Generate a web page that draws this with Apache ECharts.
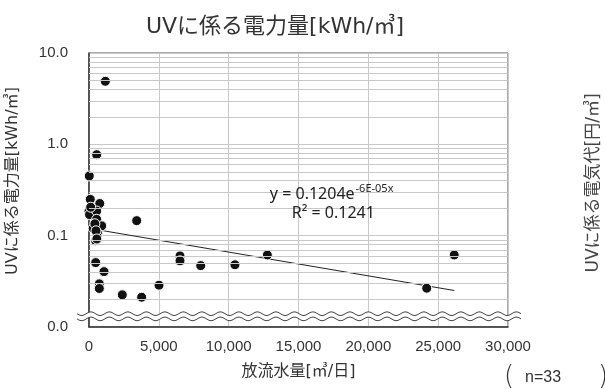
<!DOCTYPE html>
<html>
<head>
<meta charset="utf-8">
<script src="https://cdn.jsdelivr.net/npm/echarts@6/dist/echarts.min.js"></script>
<style>
html,body{margin:0;padding:0;background:#fff;}
#c{width:605px;height:389px;}
</style>
</head>
<body>
<div id="c"></div>
<script>
// ---- data ----
const titleText = 'UVに係る電力量[kWh/㎥]';
const xName = '放流水量[㎥/日]';
const yName = 'UVに係る電力量[kWh/㎥]';
const sideText = 'UVに係る電気代[円/㎥]';
const countText = 'n=33';
const xValues = [1170, 550, 20, 90, 770, 0, 40, 550, 550, 3415, 908, 300, 620, 573, 478, 478, 1074,
                 740, 740, 2385, 3770, 5012, 6515, 6515, 8000, 10450, 12770, 26150, 24180, 120, 420, 500, 560];
const yValues = [4.9, 0.77, 0.45, 0.25, 0.225, 0.185, 0.17, 0.186, 0.151, 0.146, 0.128, 0.12, 0.106, 0.0975, 0.088, 0.0507, 0.0404,
                 0.0297, 0.0264, 0.0225, 0.0212, 0.0287, 0.060, 0.053, 0.047, 0.048, 0.0615, 0.0615, 0.0266, 0.205, 0.135, 0.113, 0.092];
const trendX = [0, 26150];
const trendY = [0.1204, 0.0251];
const eqMain = 'y = 0.1204e';
const eqExp = '-6E-05x';
const r2Text = 'R² = 0.1241';
const minorGrid = [0.02,0.03,0.04,0.05,0.06,0.07,0.08,0.09,0.2,0.3,0.4,0.5,0.6,0.7,0.8,0.9,2,3,4,5,6,7,8,9];
const yMin = 0.01, yMax = 10;
const xMin = 0, xMax = 30000, xStep = 5000;
const breakValue = 0.0131;

(function () {
const JP = '"DejaVu Sans", "Noto Sans CJK JP", sans-serif';
const NUM = '"Liberation Sans", Arial, sans-serif';
const EQ = '"Noto Sans", sans-serif';
const chart = echarts.init(document.getElementById('c'));

const points = xValues.map((x, i) => [x, yValues[i]]);
const trend = trendX.map((x, i) => [x, trendY[i]]);

chart.setOption({
  animation: false,
  backgroundColor: '#fff',
  textStyle: {fontFamily: JP},
  grid: {left: 89, right: 97, top: 53, bottom: 62, show: true, borderColor: '#555', borderWidth: 1, backgroundColor: 'transparent'},
  xAxis: {
    type: 'value', min: xMin, max: xMax, interval: xStep,
    name: xName, nameLocation: 'middle', nameGap: 37,
    nameTextStyle: {fontSize: 16, color: '#333', fontFamily: JP},
    axisLine: {show: true, lineStyle: {color: '#333', width: 1.5}},
    axisTick: {show: false},
    axisLabel: {fontSize: 15, color: '#333', margin: 12, fontFamily: NUM,
      formatter: v => v.toLocaleString('en-US')},
    splitLine: {show: true, lineStyle: {color: '#c8c8c8', width: 1}}
  },
  yAxis: {
    type: 'log', logBase: 10, min: yMin, max: yMax,
    axisLine: {show: true, lineStyle: {color: '#333', width: 1.5}},
    axisTick: {show: false},
    axisLabel: {fontSize: 15, color: '#333', margin: 21, fontFamily: NUM,
      formatter: v => v.toFixed(1)},
    splitLine: {show: true, lineStyle: {color: '#c8c8c8', width: 1}}
  },
  series: [
    {
      type: 'line', data: [], silent: true, symbol: 'none',
      markLine: {
        silent: true, symbol: 'none', label: {show: false},
        lineStyle: {color: '#c8c8c8', width: 1, type: 'solid'},
        data: minorGrid.map(v => ({yAxis: v}))
      },
      z: 1
    },
    {
      type: 'line', data: trend, symbol: 'none', silent: true,
      lineStyle: {color: '#222', width: 1}, z: 3
    },
    {
      type: 'scatter', data: points, symbol: 'circle', symbolSize: 10,
      itemStyle: {color: '#111', borderColor: '#fff', borderWidth: 1, opacity: 1}, z: 4
    }
  ]
});

// decorations: axis break wave, annotations, side texts
const yb = chart.convertToPixel({yAxisIndex: 0}, breakValue);
const x0 = 77, x1 = 521, period = 18.5, amp = 1.8, half = 2.6;
function wave(off) {
  const pts = [];
  for (let x = x0; x <= x1; x += 1) {
    pts.push([x, yb + off + amp * Math.sin((x - x0) / period * 2 * Math.PI)]);
  }
  return pts;
}
const waveTop = wave(-half), waveBot = wave(half);
const band = waveTop.concat(waveBot.slice().reverse());

const eqX = chart.convertToPixel({xAxisIndex: 0}, 12950);
const eqY = chart.convertToPixel({yAxisIndex: 0}, 0.28);
const r2X = chart.convertToPixel({xAxisIndex: 0}, 14520);
const r2Y = chart.convertToPixel({yAxisIndex: 0}, 0.175);

const ctx = document.createElement('canvas').getContext('2d');
ctx.font = '16px ' + EQ;
const mainW = ctx.measureText(eqMain).width;

chart.setOption({
  graphic: [
    {type: 'polygon', shape: {points: band}, style: {fill: '#fff', stroke: null}, z: 10, silent: true},
    {type: 'polyline', shape: {points: waveTop}, style: {stroke: '#444', lineWidth: 1, fill: null}, z: 11, silent: true},
    {type: 'polyline', shape: {points: waveBot}, style: {stroke: '#444', lineWidth: 1, fill: null}, z: 11, silent: true},
    {type: 'text', x: 275, y: 27, z: 20, style: {text: titleText, font: '22px ' + JP, fill: '#333', align: 'center', verticalAlign: 'middle'}},
    {type: 'text', x: 13, y: 181, rotation: Math.PI / 2, z: 20, style: {text: yName, font: '16px ' + JP, fill: '#333', align: 'center', verticalAlign: 'middle'}},
    {type: 'text', x: eqX, y: eqY, z: 20, style: {text: eqMain, font: '16px ' + EQ, fill: '#222', align: 'left', verticalAlign: 'middle'}},
    {type: 'text', x: eqX + mainW + 1, y: eqY - 6, z: 20, style: {text: eqExp, font: '11px ' + EQ, fill: '#222', align: 'left', verticalAlign: 'middle'}},
    {type: 'text', x: r2X, y: r2Y, z: 20, style: {text: r2Text, font: '16px ' + EQ, fill: '#222', align: 'left', verticalAlign: 'middle'}},
    {type: 'text', x: 594, y: 183, rotation: Math.PI / 2, z: 20, style: {text: sideText, font: '17px ' + JP, fill: '#444', align: 'center', verticalAlign: 'middle'}},
    {type: 'text', x: 509, y: 377, z: 20, style: {text: '(', font: '300 26px "DejaVu Sans", sans-serif', fill: '#333', align: 'center', verticalAlign: 'middle'}},
    {type: 'text', x: 525, y: 378, z: 20, style: {text: countText, font: '16px ' + NUM, fill: '#333', align: 'left', verticalAlign: 'middle'}},
    {type: 'text', x: 603, y: 377, z: 20, style: {text: ')', font: '300 26px "DejaVu Sans", sans-serif', fill: '#333', align: 'center', verticalAlign: 'middle'}}
  ]
});
})();
</script>
</body>
</html>
